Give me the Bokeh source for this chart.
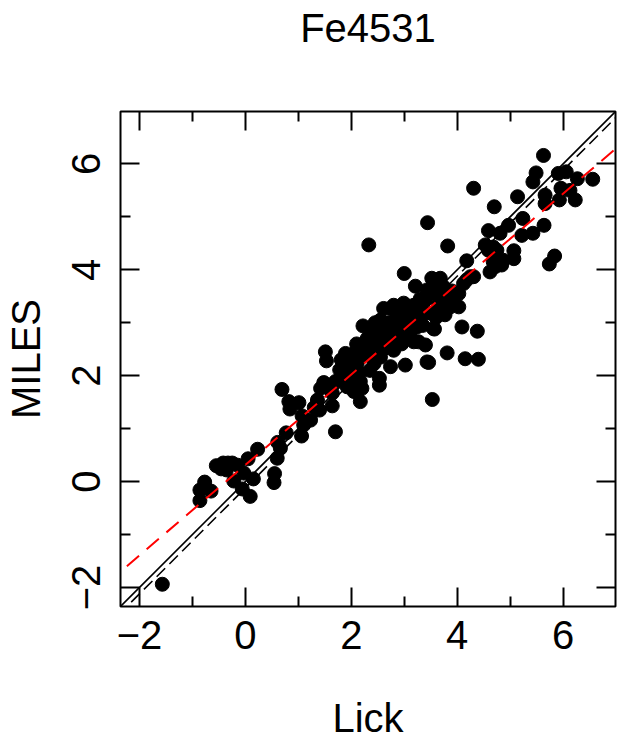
import math
from bokeh.plotting import figure
from bokeh.models import Range1d, LinearAxis, FixedTicker, CustomJSTickFormatter
from bokeh.embed import file_html
from bokeh.resources import INLINE

# ---- data ----
lick = [-1.57, -0.86, -0.86, -0.77, -0.65, -0.42, -0.46, -0.33, -0.25, -0.15,
        -0.36, -0.22, -0.06, 0.09, -0.03, 0.05, 0.15, 0.23, 0.55, 0.54,
        0.60, 0.66, 0.61, 0.77, 1.06, 1.07, 1.10, 0.84, 0.82, 1.01,
        0.69, 1.23, 1.40, 1.36, 1.42, 1.48, 1.64, 1.70, 1.51, 1.53,
        1.64, 1.70, 1.78, 1.81, 1.89, 1.92, 2.01, 2.08, 2.11, 2.17,
        2.17, 2.20, 2.23, 2.28, 2.22, 2.36, 2.43, 2.53, 2.53, 2.48,
        2.55, 2.61, 2.67, 2.74, 2.80, 2.83, 2.74, 2.83, 2.80, 2.99,
        3.02, 3.05, 3.11, 3.18, 3.24, 3.27, 3.40, 3.43, 3.53, 3.40,
        3.30, 4.70, 3.44, 3.82, 2.33, 3.00, 3.21, 3.52, 3.68, 3.55,
        3.43, 3.40, 2.99, 3.52, 3.30, 3.55, 3.05, 3.18, 3.46, 3.81,
        4.09, 4.15, 4.40, 4.38, 3.74, 3.81, 3.87, 3.77, 4.03, 4.12,
        4.18, 4.31, 4.03, 3.93, 4.18, 4.59, 4.81, 4.53, 4.59, 4.75,
        4.68, 4.62, 4.87, 4.97, 5.63, 4.31, 5.49, 5.43, 5.91, 6.06,
        6.27, 6.56, 5.14, 5.66, 5.96, 6.13, 5.66, 5.93, 6.23, 5.24,
        5.22, 5.43, 5.64, 4.68, 5.07, 5.07, 4.72, 4.84, 5.84, 5.74,
        4.25, 3.57, 2.00, 2.10, 2.30, 2.40, 2.50, 2.60, 2.70, 2.90,
        2.90, 2.60, 2.35, 2.25, 1.95, 2.45, 2.70, 3.10, 3.60, 3.65,
        3.30, 2.85, 2.00, 1.85, 2.15, 2.40, 2.55, 2.95, 3.15, 3.35,
        3.60, 3.90, 2.05, 1.60, 1.30, -0.55]
miles = [-1.94, -0.36, -0.16, -0.01, -0.18, 0.35, 0.24, 0.35, 0.35, 0.31,
         0.22, 0.01, -0.14, -0.28, 0.16, 0.43, 0.05, 0.61, 0.15, -0.02,
         0.44, 0.63, 0.74, 0.92, 0.86, 1.24, 1.07, 1.37, 1.51, 1.49,
         1.74, 1.16, 1.35, 1.54, 1.76, 1.87, 1.43, 0.94, 2.45, 2.28,
         1.67, 1.89, 2.11, 2.30, 2.42, 1.79, 2.05, 2.45, 2.23, 1.89,
         1.51, 1.76, 2.55, 2.64, 2.94, 2.42, 2.23, 1.95, 1.82, 2.80,
         3.05, 3.27, 2.67, 2.17, 2.48, 2.61, 3.27, 3.05, 3.33, 3.37,
         2.20, 3.02, 2.80, 3.33, 2.92, 2.64, 2.58, 2.26, 1.55, 3.18,
         3.33, 5.19, 4.89, 4.45, 4.47, 3.93, 3.69, 3.84, 3.84, 3.71,
         3.62, 3.43, 3.24, 3.18, 3.11, 2.89, 2.71, 2.64, 2.25, 2.43,
         2.92, 2.32, 2.31, 2.84, 3.68, 3.49, 3.30, 3.15, 3.55, 3.74,
         3.81, 3.87, 3.30, 3.43, 4.17, 4.74, 4.69, 4.47, 4.37, 4.37,
         4.15, 3.96, 4.18, 4.84, 6.16, 5.54, 5.83, 5.66, 5.82, 5.85,
         5.72, 5.71, 5.38, 5.41, 5.54, 5.50, 5.25, 5.32, 5.32, 4.97,
         4.65, 4.69, 4.84, 4.43, 4.36, 4.21, 4.06, 4.09, 4.26, 4.11,
         3.87, 2.88, 2.30, 2.60, 2.70, 2.90, 2.60, 2.90, 3.00, 3.10,
         2.90, 2.50, 2.10, 2.40, 2.15, 3.00, 2.85, 3.10, 3.55, 3.35,
         3.45, 2.75, 1.95, 2.00, 2.05, 2.50, 2.35, 2.60, 3.00, 2.95,
         3.10, 3.60, 1.70, 1.75, 1.40, 0.30]

tick_values = [-2, 0, 2, 4, 6]
tick_labels = ["\u22122", "0", "2", "4", "6"]
minor_values = [-1, 1, 3, 5]
title_text = "Fe4531"

# fitted relations drawn on the chart
red_intercept, red_slope = 0.315, 0.854   # red dashed fit
offset_intercept = -0.12                  # black dashed (slope 1)

axis_lo, axis_hi = -2.36, 6.99

FONT = "Liberation Sans"
FS = "40px"

p = figure(width=618, height=742, output_backend="svg", toolbar_location=None,
           title=None,
           x_range=Range1d(axis_lo, axis_hi), y_range=Range1d(axis_lo, axis_hi),
           min_border_left=120, min_border_right=3, min_border_top=111,
           min_border_bottom=135, x_axis_label="Lick", y_axis_label="MILES")

p.background_fill_color = "white"
p.border_fill_color = "white"
p.outline_line_color = "black"
p.outline_line_width = 2
p.grid.visible = False

ticker = FixedTicker(ticks=tick_values, minor_ticks=minor_values)
overrides = {v: s for v, s in zip(tick_values, tick_labels)}

def style_axis(ax, labels=True):
    ax.ticker = ticker
    ax.axis_line_color = None
    ax.major_tick_in = 19
    ax.major_tick_out = 0
    ax.minor_tick_in = 10
    ax.minor_tick_out = 0
    ax.major_tick_line_width = 2
    ax.minor_tick_line_width = 2
    ax.major_tick_line_color = "black"
    ax.minor_tick_line_color = "black"
    ax.axis_label_text_font = FONT
    ax.axis_label_text_font_size = FS
    ax.axis_label_text_font_style = "normal"
    ax.axis_label_text_color = "black"
    if labels:
        ax.major_label_overrides = overrides
        ax.major_label_text_font = FONT
        ax.major_label_text_font_size = FS
        ax.major_label_text_color = "black"
    else:
        ax.formatter = CustomJSTickFormatter(code="return ''")
        ax.major_label_standoff = 0

style_axis(p.xaxis[0])
style_axis(p.yaxis[0])
p.xaxis[0].major_label_standoff = 14
p.xaxis[0].axis_label_standoff = 44
p.yaxis[0].major_label_standoff = 20
p.yaxis[0].axis_label_standoff = 22
p.yaxis[0].major_label_orientation = "parallel"

# top axis carries the chart title as its label; right axis only ticks
top = LinearAxis(axis_label=title_text)
right = LinearAxis()
style_axis(top, labels=False)
style_axis(right, labels=False)
top.axis_label_standoff = 62
p.add_layout(top, "above")
p.add_layout(right, "right")

# points
p.scatter(lick, miles, size=14, marker="circle", fill_color="black", line_color="black")

# lines
xs = [axis_lo - 1, axis_hi + 1]
p.line(xs, xs, line_color="black", line_width=1.6)
p.line(xs, [x + offset_intercept for x in xs], line_color="black", line_width=1.6,
       line_dash="12 6")
p.line(xs, [red_intercept + red_slope * x for x in xs], line_color="#ff0000",
       line_width=2, line_dash="16 10")

open("out.html", "w").write(file_html(p, INLINE))
